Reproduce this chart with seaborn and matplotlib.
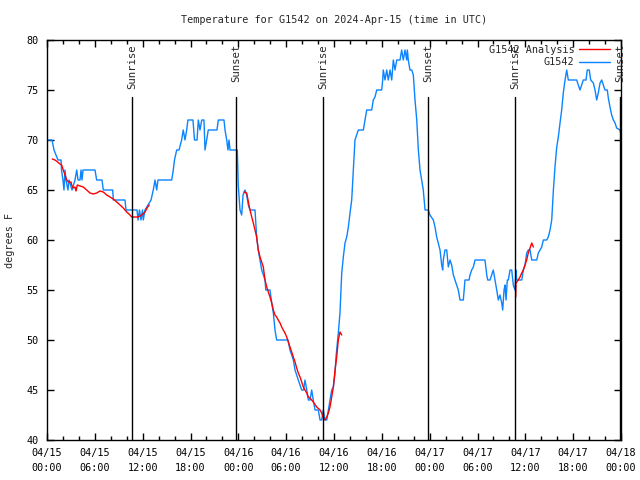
import numpy as np
import pandas as pd
import matplotlib
matplotlib.use("Agg")
import matplotlib.pyplot as plt
import matplotlib.dates as mdates
from matplotlib.lines import Line2D
import seaborn as sns

# station readings, hours since 2024-04-15 00:00 UTC
obs_hours = [
    0.0, 0.63, 0.88, 1.38, 1.76, 1.82, 2.0, 2.13, 2.26, 2.38, 2.63, 2.76, 3.14, 3.51, 3.73,
    3.89, 4.14, 4.27, 4.39, 4.52, 4.68, 6.02, 6.23, 6.9, 7.06, 8.24, 8.32, 9.78, 9.91, 11.29,
    11.42, 11.6, 11.79, 11.98, 12.08, 12.29, 13.05, 13.33, 13.55, 13.76, 13.92, 14.17, 15.64,
    15.84, 15.99, 16.27, 16.56, 16.89, 17.09, 17.31, 17.52, 17.68, 18.31, 18.5, 18.82, 18.98,
    19.19, 19.41, 19.69, 19.82, 20.03, 20.23, 21.32, 21.49, 22.2, 22.33, 22.54, 22.7, 22.83,
    22.96, 23.87, 23.99, 24.21, 24.42, 24.59, 24.84, 25.05, 25.25, 25.46, 26.09, 26.21, 26.3,
    26.5, 26.72, 26.93, 27.35, 27.44, 27.72, 27.97, 28.19, 28.39, 28.6, 28.81, 30.23, 30.48,
    30.9, 31.11, 31.52, 31.95, 32.18, 32.36, 32.58, 32.78, 32.99, 33.2, 33.4, 33.62, 34.03,
    34.25, 34.46, 34.66, 34.87, 35.09, 35.29, 35.5, 35.71, 35.92, 36.13, 36.25, 36.54, 36.75,
    36.97, 37.17, 37.38, 37.6, 37.8, 38.01, 38.22, 38.42, 38.63, 39.05, 39.68, 39.89, 40.1,
    40.73, 40.93, 41.14, 41.36, 41.98, 42.11, 42.18, 42.4, 42.61, 42.81, 43.03, 43.24, 43.44,
    43.65, 43.87, 44.28, 44.49, 44.69, 44.91, 45.12, 45.2, 45.32, 45.53, 45.75, 45.95, 46.16,
    46.38, 46.58, 46.79, 47.0, 47.2, 47.42, 47.83, 48.04, 48.46, 48.67, 48.88, 49.08, 49.3,
    49.51, 49.63, 49.71, 49.92, 50.14, 50.34, 50.55, 50.76, 50.97, 51.18, 51.39, 51.59, 51.81,
    52.22, 52.43, 52.94, 53.06, 53.27, 53.48, 53.69, 54.94, 55.16, 55.28, 55.57, 55.78, 55.98,
    56.2, 56.41, 56.61, 56.82, 57.04, 57.16, 57.33, 57.45, 57.58, 57.74, 57.87, 58.08, 58.29,
    58.49, 58.7, 58.83, 58.92, 59.55, 59.75, 59.96, 60.17, 60.37, 60.59, 60.8, 61.43, 61.63,
    61.84, 62.05, 62.26, 62.68, 62.88, 63.1, 63.31, 63.52, 63.72, 63.94, 64.14, 64.35, 64.56,
    64.76, 64.98, 65.19, 65.39, 66.44, 66.64, 66.86, 67.07, 67.27, 67.61, 67.77, 68.02, 68.2,
    68.53, 68.74, 68.95, 69.15, 69.37, 69.58, 69.78, 69.99, 70.28, 70.41, 70.62, 70.83, 71.04,
    71.25, 71.46, 71.87, 72.0,
]
obs_temp = [
    70, 70, 69, 68, 68, 67, 66, 65, 67, 66, 65, 66, 65, 66, 67,
    66, 66, 67, 66, 67, 67, 67, 66, 66, 65, 65, 64, 64, 63, 63,
    62, 63, 62, 63, 62, 63, 64, 65, 66, 65, 66, 66, 66,
    67, 68, 69, 69, 70, 71, 70, 71, 72, 72, 70, 70, 72,
    71, 72, 72, 69, 70, 71, 71, 72, 72, 71, 70, 69, 70,
    69, 69, 65.5, 63, 62.5, 64.5, 65, 64.5, 63.5, 63, 63, 61.5, 60.3,
    59, 58, 57, 56, 55, 55, 55, 53.7, 52.7, 51, 50, 50, 49,
    48, 47, 46, 45, 45, 46, 45, 44, 44, 45, 44, 43, 43,
    42, 42, 43, 42, 42, 43, 44, 45, 45.3, 46.7, 48.3, 50.7, 52.7,
    56.7, 58.3, 59.7, 60.3, 61.3, 62.7, 64, 67, 70, 71, 71, 72, 73,
    73, 74, 74.3, 75, 75, 76, 77, 76, 77, 76, 77, 76, 78,
    77, 78, 78, 79, 78, 79, 78, 79, 78, 77, 77, 76.5, 74,
    72, 69, 67, 66, 65, 63, 63, 62.5, 62, 61.3, 60.3, 59.7, 59,
    57.5, 57, 58, 59, 59, 57.3, 58, 57.5, 56.5, 56, 55.5, 55, 54,
    54, 56, 56, 56.5, 57, 57.3, 58, 58, 56.5, 56, 56, 56.5, 57,
    56, 55, 54, 54.5, 53.7, 53, 55, 55.5, 54, 56, 56, 57, 57,
    55.5, 55, 57, 56, 56, 57, 57.5, 58.7, 59, 59, 58, 58, 58.7,
    59, 59.3, 60, 60, 60.3, 61, 62, 65, 67.3, 69.3, 70.3, 71.7, 73,
    74.7, 76, 77, 76, 76, 75.5, 75, 75.5, 76, 76, 77, 77, 76,
    75.7, 75, 74, 74.7, 75.7, 76, 75.5, 75, 75, 74.2, 73.3, 72.5, 72,
    71.7, 71.2, 71, 70.5,
]

# analysis runs (three separate pieces)
ana_hours_1 = [
    0.66, 1.0, 1.34, 1.63, 1.84, 2.04, 2.26, 2.47, 2.67, 3.01, 3.1, 3.3, 3.51, 3.64, 3.8,
    4.14, 4.55, 4.98, 5.39, 5.81, 6.23, 6.65, 7.06, 7.49, 7.9, 8.32, 8.74, 9.16, 9.57, 10.0,
    10.41, 10.62, 11.04, 11.45, 11.88, 12.29, 12.63, 12.83,
]
ana_temp_1 = [
    68.1, 68, 67.8, 67.6, 67.5, 67, 66.5, 66, 65.8, 65.8, 65.5, 65.2, 65.3, 64.9, 65.5,
    65.4, 65.3, 65, 64.7, 64.6, 64.7, 64.9, 64.8, 64.5, 64.3, 64.1, 63.8, 63.5, 63.2, 62.8,
    62.5, 62.3, 62.3, 62.3, 62.5, 62.8, 63.3, 63.5,
]
ana_hours_2 = [
    24.71, 25.05, 25.38, 25.68, 25.88, 26.09, 26.3, 26.5, 26.72, 26.93, 27.13, 27.35, 27.56,
    27.76, 27.97, 28.19, 28.39, 28.6, 28.81, 29.01, 29.23, 29.44, 29.64, 29.85, 30.07, 30.27,
    30.48, 30.69, 30.9, 31.11, 31.32, 31.52, 31.74, 31.95, 32.15, 32.36, 32.58, 32.78, 32.99,
    33.4, 33.83, 34.25, 34.46, 34.66, 34.87, 35.09, 35.29, 35.5, 35.71, 35.92, 36.13, 36.34,
    36.54, 36.75, 36.97,
]
ana_temp_2 = [
    64.8, 64.7, 63.3, 62.3, 61.7, 61, 60.3, 59, 58.3, 57.8, 57.3, 56, 55.3,
    54.8, 54.3, 53.7, 53, 52.5, 52.3, 52, 51.7, 51.3, 51, 50.7, 50.3, 49.8,
    49.3, 48.8, 48.3, 47.8, 47.2, 46.7, 46.3, 45.8, 45.3, 45, 44.7, 44.3, 44.2,
    43.8, 43.3, 43, 42.7, 42.2, 42, 42.3, 42.7, 43.3, 44.3, 45.3, 47, 48.3,
    50, 50.8, 50.5,
]
ana_hours_3 = [58.79, 58.83, 59.12, 59.33, 59.55, 59.75, 59.96, 60.17, 60.37, 60.59, 60.8, 61.01]
ana_temp_3 = [54.3, 55.7, 56, 56.3, 56.7, 57, 57.5, 58, 58.7, 59.2, 59.7, 59.3]

sun_hours = [10.66, 23.71, 34.62, 47.79, 58.7, 71.88]
sun_labels = ["Sunrise", "Sunset", "Sunrise", "Sunset", "Sunrise", "Sunset"]

start = pd.Timestamp("2024-04-15 00:00")


def to_time(hours):
    return start + pd.to_timedelta(np.array(hours), unit="h")


obs = pd.DataFrame({"time": to_time(obs_hours), "temp": obs_temp})
ana = pd.concat([
    pd.DataFrame({"time": to_time(h), "temp": t, "seg": i})
    for i, (h, t) in enumerate([(ana_hours_1, ana_temp_1),
                                (ana_hours_2, ana_temp_2),
                                (ana_hours_3, ana_temp_3)])
])

sns.set_style("ticks")
plt.rcParams["font.family"] = ["DejaVu Sans Mono"]
FS = 7.3

BLUE = "#0a84ff"
RED = "#ff0000"

fig = plt.figure(figsize=(6.4, 4.8), dpi=100)
ax = fig.add_axes([47 / 640, 40 / 480, 574 / 640, 400 / 480])

sns.lineplot(data=obs, x="time", y="temp", color=BLUE, lw=1.0, ax=ax,
             estimator=None, sort=False)
sns.lineplot(data=ana, x="time", y="temp", units="seg", color=RED, lw=1.0, ax=ax,
             estimator=None, sort=False)

# sunrise / sunset markers
for h, lab in zip(sun_hours, sun_labels):
    t = to_time([h])[0]
    ax.axvline(t, ymin=0, ymax=0.857, color="black", lw=1.0)
    ax.text(t, 79.6, lab, rotation=90, ha="center", va="top", fontsize=FS + 0.4)

ax.set_xlim(start, start + pd.Timedelta(hours=72))
ax.set_ylim(40, 80)
ax.set_yticks(np.arange(40, 81, 5))
ax.xaxis.set_major_locator(mdates.HourLocator(byhour=[0, 6, 12, 18]))
ax.xaxis.set_minor_locator(mdates.HourLocator(byhour=range(0, 24, 2)))
ax.xaxis.set_major_formatter(mdates.DateFormatter("%m/%d\n%H:%M"))
ax.tick_params(which="both", direction="in", top=True, right=True, colors="black",
               labelsize=FS, width=1)
ax.tick_params(which="major", length=5, pad=6)
ax.tick_params(which="minor", length=3)
for s in ax.spines.values():
    s.set_visible(True)
    s.set_color("black")
    s.set_linewidth(1)

ax.set_xlabel("")
ax.set_ylabel("degrees F", fontsize=FS, labelpad=8)
ax.set_title("Temperature for G1542 on 2024-Apr-15 (time in UTC)", fontsize=FS, pad=12)

handles = [Line2D([], [], color=RED, lw=1.0), Line2D([], [], color=BLUE, lw=1.0)]
ax.legend(handles, ["G1542 Analysis", "G1542"], loc="upper right",
          bbox_to_anchor=(1.0, 1.016), frameon=False,
          markerfirst=False, handlelength=3.0, borderaxespad=0.7, labelspacing=0.25,
          handletextpad=0.5, fontsize=FS)

fig.canvas.draw()
for lbl in ax.get_xticklabels():
    lbl.set_linespacing(1.6)

fig.savefig("out.png", dpi=100)
